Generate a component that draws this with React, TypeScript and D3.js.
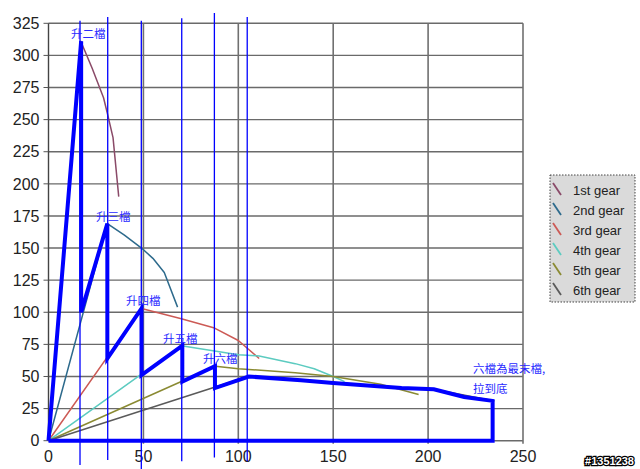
import React, { useEffect, useRef } from 'react';
import * as d3 from 'd3';

// gear curves: [speed, force]
const gear1: [number, number][] = [[0, 0], [17, 311], [23, 290], [29, 267], [31, 255], [34, 236], [37, 190]];
const gear2: [number, number][] = [[0, 0], [31, 169], [40, 160], [49, 150], [55, 142], [61, 131], [68, 104]];
const gear3: [number, number][] = [[0, 0], [49, 103], [70, 95], [87, 88], [100, 78], [111, 64]];
const gear4: [number, number][] = [[0, 0], [70, 74], [100, 67], [111, 66], [130, 60], [140, 56], [150, 50], [156, 46]];
const gear5: [number, number][] = [[0, 0], [88, 58], [100, 56], [130, 53], [150, 50], [175, 44], [195, 36]];
const gear6: [number, number][] = [[0, 0], [105, 50], [133, 47], [150, 45], [186, 41], [203, 40], [235, 31]];

const gearNames = ['1st gear', '2nd gear', '3rd gear', '4th gear', '5th gear', '6th gear'];
const gearColors = ['#8a4a68', '#2d6a8c', '#cc5a55', '#5ccbc0', '#8a8a32', '#5a5a5a'];

// acceleration path (thick blue)
const accelPath: [number, number][] = [
  [0, 0], [17.2, 311], [17.2, 100], [31, 169], [31, 64], [49, 103], [49, 51],
  [70.5, 74], [70.5, 46], [87.7, 58], [87.7, 41], [105.5, 50], [133, 47], [150, 45],
  [186, 41], [203, 40], [219, 34], [234, 31], [234, 0], [0, 0]
];

// hand drawn shift markers
const shiftX = [16.6, 31.2, 48.9, 70.2, 87.4, 104.7];
const shiftTop = [327, 330, 327, 329, 333, 330];
const shiftBottom = [-19, -15, -22, -16, -13, -16];

const noteText = ['升二檔', '升三檔', '升四檔', '升五檔', '升六檔', '六檔為最末檔,', '拉到底'];
const noteX = [11.9, 25, 40.8, 60.3, 81.4, 223.7, 223.7];
const noteY = [313.6, 171, 105.7, 76, 60.5, 52.7, 37.1];

const xTicks = [0, 50, 100, 150, 200, 250];
const yTicks = [0, 25, 50, 75, 100, 125, 150, 175, 200, 225, 250, 275, 300, 325];

const App: React.FC = () => {
  const svgRef = useRef<SVGSVGElement>(null);

  useEffect(() => {
    if (!svgRef.current) return;
    const width = 640;
    const height = 469;
    const margin = { top: 23.3, left: 48.5, right: 117, bottom: 28.3 };
    const innerWidth = width - margin.left - margin.right;
    const innerHeight = height - margin.top - margin.bottom;

    d3.select(svgRef.current).selectAll('*').remove();
    const svg = d3.select(svgRef.current).attr('width', width).attr('height', height);

    svg.append('rect').attr('width', width).attr('height', height).attr('fill', '#fff');

    const g = svg.append('g').attr('transform', `translate(${margin.left},${margin.top})`);

    const x = d3.scaleLinear().domain([0, 250]).range([0, innerWidth]);
    const y = d3.scaleLinear().domain([0, 325]).range([innerHeight, 0]);

    const font = '"Liberation Sans", Arial, sans-serif';
    const cjk = '"Noto Sans CJK TC", "Noto Sans CJK SC", sans-serif';

    // Grid
    g.append('g')
      .selectAll('line')
      .data(yTicks)
      .enter()
      .append('line')
      .attr('x1', 0)
      .attr('x2', innerWidth)
      .attr('y1', d => y(d))
      .attr('y2', d => y(d))
      .attr('stroke', '#6a6a6a')
      .attr('stroke-width', 1.4);

    g.append('g')
      .selectAll('line')
      .data(xTicks.filter(d => d > 0))
      .enter()
      .append('line')
      .attr('x1', d => x(d))
      .attr('x2', d => x(d))
      .attr('y1', 0)
      .attr('y2', innerHeight + 3)
      .attr('stroke', '#707070')
      .attr('stroke-width', 1.6);

    // Axes
    g.append('line')
      .attr('x1', 0).attr('x2', 0)
      .attr('y1', 0).attr('y2', innerHeight)
      .attr('stroke', '#444').attr('stroke-width', 1.4);

    g.append('g')
      .selectAll('line')
      .data(yTicks)
      .enter()
      .append('line')
      .attr('x1', -5)
      .attr('x2', 0)
      .attr('y1', d => y(d))
      .attr('y2', d => y(d))
      .attr('stroke', '#555');

    g.append('g')
      .selectAll('text')
      .data(yTicks)
      .enter()
      .append('text')
      .attr('x', -9)
      .attr('y', d => y(d))
      .attr('dy', '0.36em')
      .attr('text-anchor', 'end')
      .attr('font-family', font)
      .attr('font-size', 16)
      .attr('fill', '#222')
      .text(d => d);

    g.append('g')
      .selectAll('text')
      .data(xTicks)
      .enter()
      .append('text')
      .attr('x', d => x(d))
      .attr('y', innerHeight + 21.3)
      .attr('text-anchor', 'middle')
      .attr('font-family', font)
      .attr('font-size', 16)
      .attr('fill', '#222')
      .text(d => d);

    const line = d3.line<[number, number]>()
      .x(d => x(d[0]))
      .y(d => y(d[1]));

    // Gear curves
    [gear1, gear2, gear3, gear4, gear5, gear6].forEach((series, i) => {
      g.append('path')
        .datum(series)
        .attr('fill', 'none')
        .attr('stroke', gearColors[i])
        .attr('stroke-width', 1.5)
        .attr('stroke-linejoin', 'round')
        .attr('d', line);
    });

    // Shift markers
    g.append('g')
      .selectAll('line')
      .data(shiftX)
      .enter()
      .append('line')
      .attr('x1', d => x(d))
      .attr('x2', d => x(d))
      .attr('y1', (d, i) => y(shiftTop[i]))
      .attr('y2', (d, i) => y(shiftBottom[i]))
      .attr('stroke', '#0000ff')
      .attr('stroke-width', 1.3);

    // Acceleration path
    g.append('path')
      .datum(accelPath)
      .attr('fill', 'none')
      .attr('stroke', '#0000ff')
      .attr('stroke-width', 4)
      .attr('stroke-linejoin', 'miter')
      .attr('d', line);

    // Notes
    g.append('g')
      .selectAll('text')
      .data(noteText)
      .enter()
      .append('text')
      .attr('x', (d, i) => x(noteX[i]))
      .attr('y', (d, i) => y(noteY[i]))
      .attr('font-family', cjk)
      .attr('font-size', 11.5)
      .attr('fill', '#2a2aff')
      .text(d => d);

    // Legend
    const legend = svg.append('g').attr('transform', 'translate(550,175)');
    legend.append('rect')
      .attr('width', 85)
      .attr('height', 127)
      .attr('fill', '#dadada')
      .attr('stroke', '#444')
      .attr('stroke-width', 1)
      .attr('stroke-dasharray', '1.5 1.5');

    gearNames.forEach((name, i) => {
      const row = legend.append('g').attr('transform', `translate(0,${14 + i * 20})`);
      row.append('line')
        .attr('x1', 3).attr('y1', -6)
        .attr('x2', 11).attr('y2', 6)
        .attr('stroke', gearColors[i])
        .attr('stroke-width', 1.8);
      row.append('text')
        .attr('x', 23)
        .attr('y', 6)
        .attr('font-family', font)
        .attr('font-size', 13)
        .attr('fill', '#222')
        .text(name);
    });

    // watermark
    svg.append('text')
      .attr('x', 634)
      .attr('y', 465)
      .attr('text-anchor', 'end')
      .attr('font-family', font)
      .attr('font-size', 11)
      .attr('font-weight', 'bold')
      .attr('fill', '#fff')
      .attr('stroke', '#000')
      .attr('stroke-width', 2.5)
      .attr('paint-order', 'stroke')
      .text('#1351238');
  }, []);

  return (
    <div style={{ position: 'fixed', left: 0, top: 0 }}>
      <svg ref={svgRef} style={{ display: 'block' }} />
    </div>
  );
};

export default App;
